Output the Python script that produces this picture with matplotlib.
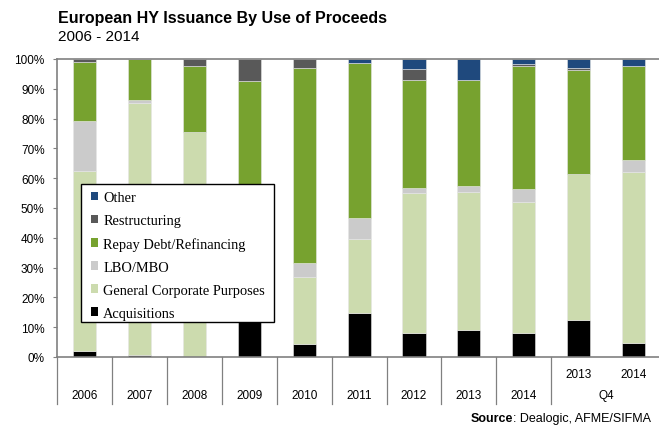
import numpy as np
import matplotlib
matplotlib.use("Agg")
import matplotlib.pyplot as plt
import matplotlib.transforms as mtransforms
from matplotlib.patches import Patch, Rectangle

plt.rcParams['font.family'] = ['Liberation Sans', 'DejaVu Sans']

# ---------------------------------------------------------------------
# Data (share of issuance, %)
# ---------------------------------------------------------------------
years = ["2006", "2007", "2008", "2009", "2010", "2011", "2012", "2013", "2014"]
q4_years = ["2013", "2014"]
q4_label = "Q4"

acquisitions = [2.0, 0.7, 0.0, 14.0, 4.5, 14.6, 8.1, 8.9, 8.1, 12.3, 4.8]
general_corp = [60.3, 84.6, 75.4, 22.0, 22.2, 25.1, 46.9, 46.4, 43.9, 49.2, 57.4]
lbo_mbo = [17.0, 0.9, 0.0, 0.0, 4.7, 6.9, 1.6, 2.0, 4.3, 0.0, 4.0]
repay_debt = [19.7, 13.8, 22.4, 56.5, 65.7, 51.9, 36.4, 35.8, 41.2, 34.9, 31.6]
restructuring = [1.0, 0.0, 2.2, 7.5, 2.9, 0.2, 3.6, 0.0, 0.8, 0.6, 0.0]
other = [0.0, 0.0, 0.0, 0.0, 0.0, 1.3, 3.4, 6.9, 1.7, 3.0, 2.2]

series_names = ["Acquisitions", "General Corporate Purposes", "LBO/MBO",
                "Repay Debt/Refinancing", "Restructuring", "Other"]
series_values = [acquisitions, general_corp, lbo_mbo, repay_debt, restructuring, other]
series_colors = ["#000000", "#CCDBAE", "#CBCBCB", "#77A22F", "#595959", "#1F497D"]

# ---------------------------------------------------------------------
# Figure
# ---------------------------------------------------------------------
W, H = 659, 431
fig = plt.figure(figsize=(W / 100, H / 100), dpi=100)
ax = fig.add_axes([57 / W, 1 - 358 / H, 1 - 57 / W, (358 - 60) / H])
ax_w, ax_h = W - 57, 358 - 60

n = len(acquisitions)
x = np.arange(n)
bottom = np.zeros(n)
for name, vals, col in zip(series_names, series_values, series_colors):
    vals = np.array(vals)
    ax.bar(x, vals, bottom=bottom, width=0.42, color=col, label=name,
           edgecolor="#E6E6E6", linewidth=0.4)
    bottom += vals

ax.set_xlim(-0.5, n - 0.5 - 0.04)
ax.set_ylim(0, 100)
ax.set_yticks(np.arange(0, 101, 10))
ax.set_yticklabels([f"{v}%" for v in range(0, 101, 10)], fontsize=8.5)
ax.tick_params(axis='y', length=3, width=0.8, color="#808080", pad=6)
ax.set_xticks([])

for side in ["top", "left", "bottom"]:
    ax.spines[side].set_color("#808080")
    ax.spines[side].set_linewidth(1.2)
ax.spines["right"].set_visible(False)

# category labels and separators below the axis
trans = mtransforms.blended_transform_factory(ax.transData, ax.transAxes)
sep_bottom = -(405 - 358) / ax_h
for i, lab in enumerate(years):
    ax.text(i, -(396 - 358) / ax_h, lab, transform=trans, ha="center",
            va="center", fontsize=8.5)
for j, lab in enumerate(q4_years):
    ax.text(len(years) + j, -(375 - 358) / ax_h, lab, transform=trans,
            ha="center", va="center", fontsize=8.5)
ax.text(len(years) + 0.5, -(396 - 358) / ax_h, q4_label, transform=trans,
        ha="center", va="center", fontsize=8.5)
for b in np.arange(-0.5, len(years) + 0.5, 1.0):
    ax.plot([b, b], [0, sep_bottom], transform=trans, color="#808080",
            linewidth=0.9, clip_on=False)

# legend box (opaque, drawn over the bars) + legend entries
box = Rectangle(((81 - 57) / ax_w, (358 - 323) / ax_h),
                (274 - 81) / ax_w, (323 - 185) / ax_h,
                transform=ax.transAxes, facecolor="white", edgecolor="black",
                linewidth=1.0, zorder=4, clip_on=False)
ax.add_patch(box)
handles = [Patch(facecolor=c, edgecolor="none") for c in series_colors][::-1]
leg = ax.legend(handles, series_names[::-1], loc="upper left",
                bbox_to_anchor=((91 - 57) / ax_w, (358 - 192) / ax_h),
                prop={'family': 'Liberation Serif', 'size': 10.4},
                frameon=False, handlelength=0.5, handleheight=0.5,
                handletextpad=0.35, labelspacing=0.69, borderpad=0,
                borderaxespad=0)
leg.set_zorder(5)

# titles
fig.text(58 / W, 1 - 19 / H, "European HY Issuance By Use of Proceeds",
         fontsize=11.5, fontweight="bold", va="center", ha="left")
fig.text(58 / W, 1 - 37 / H, "2006 - 2014", fontsize=11,
         va="center", ha="left")

# source note
fig.canvas.draw()
renderer = fig.canvas.get_renderer()
src = fig.text(651 / W, 1 - 419 / H, ": Dealogic, AFME/SIFMA",
               fontsize=9, ha="right", va="center")
bb = src.get_window_extent(renderer=renderer)
fig.text(bb.x0 / fig.bbox.width, 1 - 419 / H, "Source", fontsize=9,
         fontweight="bold", ha="right", va="center")

fig.savefig("out.png", dpi=100)
